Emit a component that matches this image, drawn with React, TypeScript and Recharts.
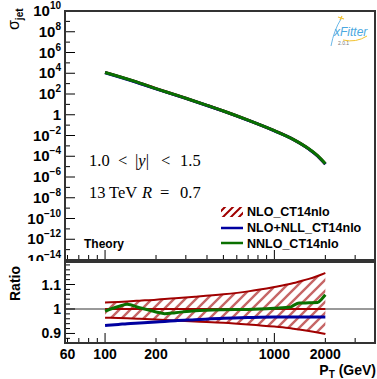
import React from 'react'
import { ComposedChart, Line, Area, XAxis, YAxis, ReferenceLine } from 'recharts'

// theory curves (top pad)
const ptTheory = [100, 150, 200, 300, 400, 500, 700, 1000, 1300, 1600, 1800, 2000]
const sigmaNLO = [1.2e4, 1.6e3, 3.3e2, 39, 8.1, 2.3, 0.3, 0.029, 4.0e-3, 5.0e-4, 1.1e-4, 1.8e-5]
const sigmaNLL = [1.12e4, 1.5e3, 3.13e2, 37.3, 7.8, 2.21, 0.29, 0.028, 3.87e-3, 4.83e-4, 1.06e-4, 1.74e-5]
const sigmaNNLO = [1.19e4, 1.63e3, 3.26e2, 38.7, 8.06, 2.29, 0.299, 0.0291, 4.06e-3, 5.12e-4, 1.13e-4, 1.9e-5]

// ratio pad
const ptRatio = [100, 120, 135, 160, 200, 225, 260, 340, 500, 700, 1000, 1250, 1300, 1400, 1600, 1800, 1900, 2000]
const nloUp = [1.026, 1.029, 1.031, 1.034, 1.038, 1.041, 1.044, 1.05, 1.06, 1.072, 1.09, 1.103, 1.106, 1.112, 1.123, 1.135, 1.141, 1.147]
const nloDown = [0.964, 0.963, 0.962, 0.96, 0.957, 0.955, 0.953, 0.949, 0.944, 0.937, 0.928, 0.921, 0.919, 0.916, 0.91, 0.904, 0.901, 0.898]
const nloRatio = [1, 1, 1, 1, 1, 1, 1, 1, 1, 1, 1, 1, 1, 1, 1, 1, 1, 1]
const nllRatio = [0.933, 0.937, 0.94, 0.943, 0.947, 0.949, 0.952, 0.956, 0.962, 0.965, 0.967, 0.967, 0.967, 0.967, 0.967, 0.967, 0.967, 0.967]
const nnloRatio = [0.991, 1.01, 1.019, 1.005, 0.988, 0.981, 0.985, 0.993, 0.997, 0.998, 1.003, 1.008, 1.015, 1.024, 1.025, 1.026, 1.04, 1.058]

// axes
const sigmaExp = [-14, -13, -12, -11, -10, -9, -8, -7, -6, -5, -4, -3, -2, -1, 0, 1, 2, 3, 4, 5, 6, 7, 8, 9, 10]
const ptTicks = [60, 70, 80, 90, 100, 200, 300, 400, 500, 600, 700, 800, 900, 1000, 2000, 3000]
const ptLabels = [60, 100, 200, 1000, 2000]
const ratioTicks = [0.88, 0.9, 0.92, 0.94, 0.96, 0.98, 1, 1.02, 1.04, 1.06, 1.08, 1.1, 1.12, 1.14, 1.16, 1.18]
const ratioLabels = [0.9, 1, 1.1]

const RED = '#a00000'
const BLUE = '#0000a0'
const GREEN = '#0a7000'
const FONT = '"Liberation Sans", Arial, sans-serif'
const SERIF = '"Liberation Serif", serif'

const theoryData = ptTheory.map((pt, i) => ({ pt, nlo: sigmaNLO[i], nll: sigmaNLL[i], nnlo: sigmaNNLO[i] }))
const ratioData = ptRatio.map((pt, i) => ({
  pt, band: [nloDown[i], nloUp[i]], nlo: nloRatio[i], nll: nllRatio[i], nnlo: nnloRatio[i],
}))

const PLOT_L = 65

function SigmaTick({ y, payload }: any) {
  const e = Math.round(Math.log10(payload.value))
  const even = e % 2 === 0
  return (
    <g>
      <line x1={PLOT_L} x2={PLOT_L + (even ? 10 : 5)} y1={y} y2={y} stroke="#000" />
      {even && (
        <text x={61} y={y} dy={5} textAnchor="end" fontFamily={FONT} fontWeight="bold" fontSize={15} fill="#000">
          {e === 0 ? '1' : '10'}
          {e !== 0 && <tspan dy={-7} fontSize={10}>{e < 0 ? '\u2212' + -e : e}</tspan>}
        </text>
      )}
    </g>
  )
}

function RatioTick({ y, payload }: any) {
  const v = payload.value
  const major = ratioLabels.some((l) => Math.abs(l - v) < 1e-6)
  return (
    <g>
      <line x1={PLOT_L} x2={PLOT_L + (major ? 10 : 5)} y1={y} y2={y} stroke="#000" />
      {major && (
        <text x={61} y={y} dy={5} textAnchor="end" fontFamily={FONT} fontWeight="bold" fontSize={14} fill="#000">
          {v}
        </text>
      )}
    </g>
  )
}

function makePtTick(bottom: number, labels: boolean) {
  return function PtTick({ x, payload }: any) {
    const v = payload.value
    const major = v === 100 || v === 1000
    return (
      <g>
        <line x1={x} x2={x} y1={bottom} y2={bottom - (major ? 10 : 5)} stroke="#000" />
        {labels && ptLabels.includes(v) && (
          <text x={x} y={bottom + 16} textAnchor="middle" fontFamily={FONT} fontWeight="bold" fontSize={14} fill="#000">
            {v}
          </text>
        )}
      </g>
    )
  }
}

const hatchDefs = (
  <defs>
    <pattern id="hatch" patternUnits="userSpaceOnUse" width={11} height={11}>
      <path d="M-2,2 L2,-2 M0,11 L11,0 M9,13 L13,9" stroke={RED} strokeWidth={2.4} />
    </pattern>
  </defs>
)

export default function App() {
  const abs = (s: React.CSSProperties): React.CSSProperties => ({ position: 'absolute', ...s })
  return (
    <div style={abs({ left: 0, top: 0, width: 377, height: 379, background: '#fff', overflow: 'hidden' })}>
      <div style={abs({ left: 0, top: 0 })}>
        <ComposedChart width={377} height={379} data={theoryData} margin={{ top: 11, right: 2, bottom: 118, left: 0 }}>
          <XAxis dataKey="pt" type="number" scale="log" domain={[58, 3930]} allowDataOverflow ticks={ptTicks} interval={0}
            height={1} axisLine={false} tickLine={false} tick={makePtTick(260, false)} />
          <YAxis type="number" scale="log" domain={[1e-14, 1e10]} allowDataOverflow width={65}
            ticks={sigmaExp.map((e) => 10 ** e)} interval={0} axisLine={false} tickLine={false} tick={<SigmaTick />} />
          <Line dataKey="nlo" type="monotone" stroke={RED} strokeWidth={3} dot={false} isAnimationActive={false} />
          <Line dataKey="nll" type="monotone" stroke={BLUE} strokeWidth={3} dot={false} isAnimationActive={false} />
          <Line dataKey="nnlo" type="monotone" stroke={GREEN} strokeWidth={3} dot={false} isAnimationActive={false} />
        </ComposedChart>
      </div>
      <div style={abs({ left: 64, top: 10, width: 312, height: 251, border: '2px solid #333', boxSizing: 'border-box' })} />
      <div style={abs({ left: 0, top: 261, width: 377, height: 118, background: '#fff' })} />
      <div style={abs({ left: 0, top: 0 })}>
        <ComposedChart width={377} height={379} data={ratioData} margin={{ top: 262, right: 2, bottom: 0, left: 0 }}>
          {hatchDefs}
          <XAxis dataKey="pt" type="number" scale="log" domain={[58, 3930]} allowDataOverflow ticks={ptTicks} interval={0}
            height={36} axisLine={false} tickLine={false} tick={makePtTick(343, true)} />
          <YAxis type="number" domain={[0.861, 1.192]} allowDataOverflow width={65}
            ticks={ratioTicks} interval={0} axisLine={false} tickLine={false} tick={<RatioTick />} />
          <ReferenceLine y={1} stroke="#777" strokeWidth={1.5} />
          <Area dataKey="band" type="monotone" fill="url(#hatch)" stroke={RED} strokeWidth={2} isAnimationActive={false} />
          <Line dataKey="nlo" type="monotone" stroke={RED} strokeWidth={2} dot={false} isAnimationActive={false} />
          <Line dataKey="nll" type="monotone" stroke={BLUE} strokeWidth={3} dot={false} isAnimationActive={false} />
          <Line dataKey="nnlo" type="monotone" stroke={GREEN} strokeWidth={3} dot={false} isAnimationActive={false} />
        </ComposedChart>
      </div>
      <div style={abs({ left: 64, top: 261, width: 312, height: 83, border: '2px solid #333', boxSizing: 'border-box' })} />
      <svg width={377} height={379} style={abs({ left: 0, top: 0, pointerEvents: 'none' })}>
        <defs>
          <pattern id="hatchLeg" patternUnits="userSpaceOnUse" width={8} height={8}>
            <path d="M-2,2 L2,-2 M0,8 L8,0 M6,10 L10,6" stroke={RED} strokeWidth={2} />
          </pattern>
        </defs>
        <text transform="translate(19,30) rotate(-90)" fontFamily={FONT} fontSize={16} fill="#000">
          σ<tspan dy={4} fontSize={10} fontWeight="bold">jet</tspan>
        </text>
        <text transform="translate(20,301) rotate(-90)" fontFamily={FONT} fontWeight="bold" fontSize={14} fill="#000">Ratio</text>
        <text x={376} y={375} textAnchor="end" fontFamily={FONT} fontWeight="bold" fontSize={14} fill="#000">
          P<tspan dy={3} fontSize={10}>T</tspan><tspan dy={-3}> (GeV)</tspan>
        </text>
        <g fontFamily={SERIF} fontSize={16.5} fill="#000">
          <text y={166}>
            <tspan x={89}>1.0</tspan>
            <tspan x={118}>{'<'}</tspan>
            <tspan x={135}>|</tspan><tspan fontStyle="italic">y</tspan><tspan>|</tspan>
            <tspan x={161}>{'<'}</tspan>
            <tspan x={180}>1.5</tspan>
          </text>
          <text y={198}>
            <tspan x={89}>13</tspan>
            <tspan x={109}>TeV</tspan>
            <tspan x={142} fontStyle="italic">R</tspan>
            <tspan x={160}>=</tspan>
            <tspan x={180}>0.7</tspan>
          </text>
        </g>
        <text x={84} y={248} fontFamily={FONT} fontWeight="bold" fontSize={12} fill="#000">Theory</text>
        <rect x={221} y={207} width={22} height={10} fill="url(#hatchLeg)" />
        <line x1={221} x2={243} y1={228} y2={228} stroke={BLUE} strokeWidth={2.5} />
        <line x1={221} x2={243} y1={243} y2={243} stroke={GREEN} strokeWidth={2.5} />
        <text x={247} y={216} fontFamily={FONT} fontWeight="bold" fontSize={12.5} fill="#000">NLO_CT14nlo</text>
        <text x={247} y={232} fontFamily={FONT} fontWeight="bold" fontSize={12.5} fill="#000">NLO+NLL_CT14nlo</text>
        <text x={247} y={248} fontFamily={FONT} fontWeight="bold" fontSize={12.5} fill="#000">NNLO_CT14nlo</text>
        <path d="M331,46 Q334,30 341,19" stroke="#6bb8e8" strokeWidth={1} fill="none" />
        <path d="M340,20 L342,16 M338,17 L344,19" stroke="#f2c230" strokeWidth={1.2} />
        <path d="M343,40 Q356,43 367,36" stroke="#f2c230" strokeWidth={1} fill="none" />
        <text x={334} y={36} fontFamily={FONT} fontStyle="italic" fontSize={12} fill="#4aa8e0">xFitter</text>
        <text x={338} y={45} fontFamily={FONT} fontSize={5} fill="#777">2.0.1</text>
      </svg>
    </div>
  )
}
